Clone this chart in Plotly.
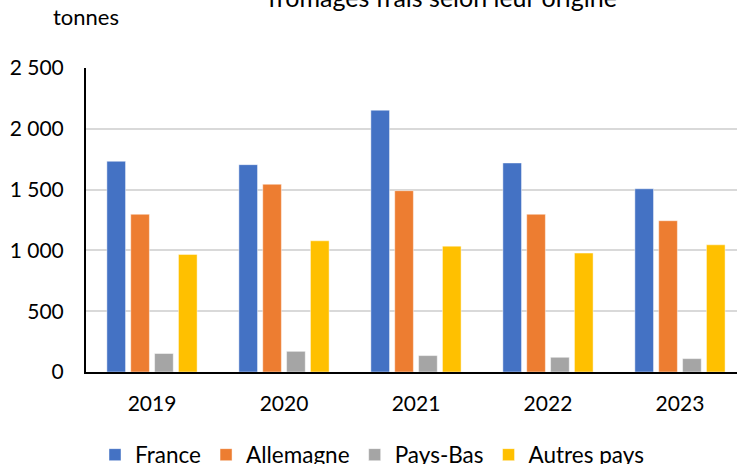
import plotly.graph_objects as go

years = ["2019", "2020", "2021", "2022", "2023"]
france = [1733, 1705, 2153, 1719, 1507]
allemagne = [1297, 1544, 1491, 1297, 1244]
pays_bas = [152, 170, 135, 121, 110]
autres = [967, 1079, 1035, 978, 1046]

series_names = ["France", "Allemagne", "Pays-Bas", "Autres pays"]
series_values = [france, allemagne, pays_bas, autres]
colors = ["#4472C4", "#ED7D31", "#A5A5A5", "#FFC000"]

FONT = "Lato, 'Open Sans', sans-serif"

fig = go.Figure()
for name, vals, col in zip(series_names, series_values, colors):
    fig.add_trace(go.Bar(
        x=years, y=vals, name=name,
        marker=dict(color=col, line=dict(color="rgba(255,255,255,0.45)", width=1)),
    ))

W, H = 737, 464
L, R, T, B = 86, 0, 68, 92
ph = H - T - B

def py(pix):
    return (H - B - pix) / ph

def px(pix):
    return (pix - L) / (W - L - R)

fig.update_layout(
    width=W, height=H,
    margin=dict(l=L, r=R, t=T, b=B, pad=0, autoexpand=False),
    paper_bgcolor="white", plot_bgcolor="white",
    font=dict(family=FONT, size=21, color="#000000"),
    separators=", ",
    barmode="group", bargap=0.277, bargroupgap=0.218,
    showlegend=True,
    legend=dict(
        orientation="h", x=px(372), xanchor="center",
        y=py(455), yanchor="middle",
        font=dict(size=22.5, color="#000000"),
        traceorder="normal", itemclick=False,
    ),
    xaxis=dict(
        type="category", range=[-0.5, 4.432],
        showline=True, linecolor="#000000", linewidth=2,
        showgrid=False, ticks="", ticklabelstandoff=12,
        tickfont=dict(size=21),
    ),
    yaxis=dict(
        range=[0, 2500], tickvals=[0, 500, 1000, 1500, 2000, 2500],
        tickformat=",d",
        showline=True, linecolor="#000000", linewidth=2,
        showgrid=True, gridcolor="#D9D9D9", gridwidth=1.5,
        zeroline=False, ticks="", ticklabelstandoff=16,
        tickfont=dict(size=21),
    ),
    annotations=[
        dict(text="fromages frais selon leur origine", xref="paper", yref="paper",
             x=px(442), y=py(14), xanchor="center", yanchor="bottom",
             showarrow=False, font=dict(size=25, color="#000000")),
        dict(text="tonnes", xref="paper", yref="paper",
             x=px(51), y=py(32), xanchor="left", yanchor="bottom",
             showarrow=False, font=dict(size=22, color="#000000")),
    ],
)

fig.write_html(
    "out.html",
    config={"displayModeBar": False},
    post_script="document.body.style.margin='0';document.body.style.overflow='hidden';",
)
